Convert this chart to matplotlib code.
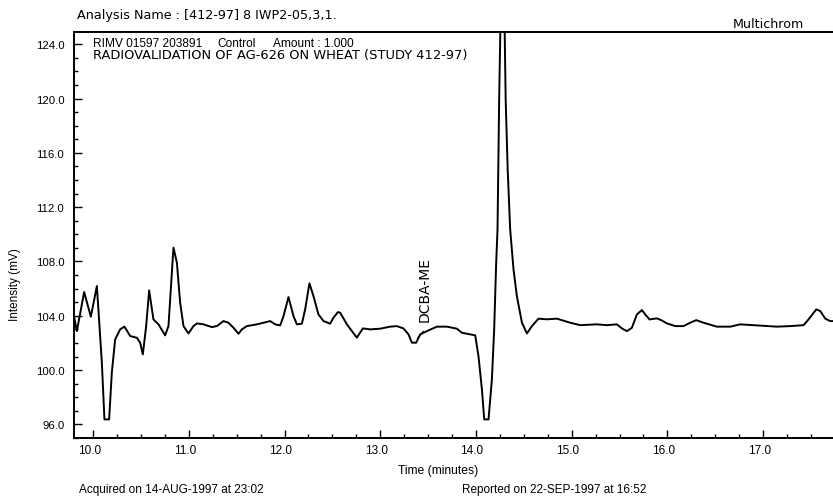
import numpy as np
import matplotlib
matplotlib.use("Agg")
import matplotlib.pyplot as plt
from matplotlib.ticker import MultipleLocator, FormatStrFormatter
import matplotlib.transforms as mtransforms

plt.rcParams['font.family'] = ['Liberation Sans', 'DejaVu Sans']

# chromatogram trace, time (min) vs detector signal (mV)
time_min = [
    9.801, 9.830, 9.906, 9.976, 10.039, 10.091, 10.118, 10.167, 10.195, 10.230,
    10.282, 10.327, 10.387, 10.457, 10.491, 10.519, 10.554, 10.585, 10.630, 10.683,
    10.752, 10.787, 10.839, 10.875, 10.909, 10.944, 10.996, 11.048, 11.084, 11.153,
    11.240, 11.293, 11.362, 11.414, 11.466, 11.519, 11.554, 11.606, 11.711, 11.850,
    11.902, 11.954, 11.989, 12.041, 12.093, 12.129, 12.181, 12.215, 12.260, 12.302,
    12.354, 12.407, 12.476, 12.511, 12.557, 12.581, 12.651, 12.755, 12.818, 12.894,
    12.999, 13.103, 13.173, 13.242, 13.295, 13.330, 13.375, 13.417, 13.487, 13.591,
    13.696, 13.800, 13.853, 13.939, 13.992, 14.026, 14.062, 14.086, 14.131, 14.166,
    14.190, 14.211, 14.225, 14.242, 14.279, 14.310, 14.331, 14.357, 14.392, 14.427,
    14.480, 14.532, 14.584, 14.653, 14.741, 14.845, 14.984, 15.089, 15.263, 15.368,
    15.472, 15.525, 15.577, 15.629, 15.681, 15.734, 15.768, 15.813, 15.890, 15.935,
    15.995, 16.082, 16.168, 16.238, 16.301, 16.377, 16.517, 16.656, 16.760, 16.935,
    17.144, 17.283, 17.422, 17.474, 17.555, 17.597, 17.649, 17.701, 17.736,
]
intensity_mv = [
    103.93, 102.87, 105.75, 103.93, 106.19, 100.54, 96.37, 96.37, 99.81, 102.26,
    103.00, 103.20, 102.51, 102.38, 102.02, 101.16, 103.24, 105.87, 103.73, 103.37,
    102.56, 103.24, 109.02, 107.91, 104.96, 103.24, 102.70, 103.24, 103.44, 103.37,
    103.17, 103.24, 103.61, 103.49, 103.12, 102.68, 103.00, 103.24, 103.37, 103.61,
    103.37, 103.29, 103.98, 105.38, 103.98, 103.37, 103.42, 104.47, 106.39, 105.45,
    104.10, 103.61, 103.42, 103.86, 104.27, 104.23, 103.37, 102.39, 103.07, 103.00,
    103.05, 103.20, 103.24, 103.07, 102.63, 102.02, 102.02, 102.63, 102.87, 103.20,
    103.20, 103.05, 102.75, 102.63, 102.56, 101.03, 98.58, 96.37, 96.37, 99.31,
    103.00, 107.91, 110.37, 119.95, 135.00, 119.95, 114.79, 110.37, 107.42, 105.45,
    103.49, 102.70, 103.24, 103.79, 103.74, 103.79, 103.49, 103.31, 103.37, 103.31,
    103.37, 103.07, 102.87, 103.12, 104.10, 104.42, 104.10, 103.73, 103.81, 103.68,
    103.44, 103.24, 103.24, 103.49, 103.68, 103.49, 103.20, 103.20, 103.37, 103.29,
    103.20, 103.24, 103.31, 103.73, 104.47, 104.35, 103.79, 103.61, 103.61,
]

peak_name = "DCBA-ME"
peak_label_pos = (13.459, 103.6)
peak_mark = ([13.39, 13.45], [102.35, 102.85])

x_range = (9.80, 17.73)
y_range = (95.0, 124.9)

fig = plt.figure(figsize=(8.33, 5.02), dpi=100)
ax = fig.add_axes([74 / 833, 1 - 439 / 502, 1 - 74 / 833, (439 - 33) / 502])

ax.plot(time_min, intensity_mv, color='black', lw=1.4, solid_joinstyle='round')
ax.plot(*peak_mark, color='black', lw=0.9)
ax.text(*peak_label_pos, peak_name, rotation=90, ha='center', va='bottom',
        fontsize=10, family='DejaVu Sans')

ax.set_xlim(*x_range)
ax.set_ylim(*y_range)

for side in ('left', 'bottom', 'top'):
    ax.spines[side].set_linewidth(1.4)
ax.spines['right'].set_visible(False)

ax.xaxis.set_major_locator(MultipleLocator(1.0))
ax.xaxis.set_minor_locator(MultipleLocator(0.25))
ax.yaxis.set_major_locator(MultipleLocator(4.0))
ax.yaxis.set_minor_locator(MultipleLocator(1.0))
ax.xaxis.set_major_formatter(FormatStrFormatter('%.1f'))
ax.yaxis.set_major_formatter(FormatStrFormatter('%.1f'))
ax.tick_params(which='both', direction='in', top=False, right=False,
               labelsize=8.5, width=1.0)
ax.tick_params(which='major', length=6)
ax.tick_params(which='minor', length=3)
ax.tick_params(axis='y', pad=7, labelsize=8.2)
ax.tick_params(axis='x', pad=4)

shift = mtransforms.ScaledTranslation(-4 / 100, 0, fig.dpi_scale_trans)
for lab in ax.get_xticklabels():
    lab.set_transform(lab.get_transform() + shift)

# header
fig.text(77 / 833, 1 - 15 / 502, "Analysis Name : [412-97] 8 IWP2-05,3,1.",
         fontsize=9.2, va='center', ha='left', family='DejaVu Sans')
fig.text(768 / 833, 1 - 25 / 502, "Multichrom", fontsize=9.1,
         va='center', ha='center', family='DejaVu Sans')

# sample description inside the plot
fig.text(93 / 833, 1 - 44 / 502, "RIMV 01597 203891",
         fontsize=8.6, va='center', ha='left')
fig.text(217 / 833, 1 - 44 / 502, "Control",
         fontsize=8.6, va='center', ha='left')
fig.text(273 / 833, 1 - 44 / 502, "Amount : 1.000",
         fontsize=8.6, va='center', ha='left')
fig.text(93 / 833, 1 - 55.5 / 502,
         "RADIOVALIDATION OF AG-626 ON WHEAT (STUDY 412-97)",
         fontsize=9.4, va='center', ha='left', family='DejaVu Sans')

fig.text(15 / 833, 1 - 285 / 502, "Intensity (mV)", rotation=90,
         fontsize=8.5, va='center', ha='center')
fig.text(438 / 833, 1 - 471 / 502, "Time (minutes)", fontsize=8.7,
         va='center', ha='center')

# footer
fig.text(79 / 833, 1 - 490 / 502, "Acquired on 14-AUG-1997 at 23:02",
         fontsize=8.5, va='center', ha='left')
fig.text(462 / 833, 1 - 490 / 502, "Reported on 22-SEP-1997 at 16:52",
         fontsize=8.5, va='center', ha='left')

fig.savefig("out.png", dpi=100)
